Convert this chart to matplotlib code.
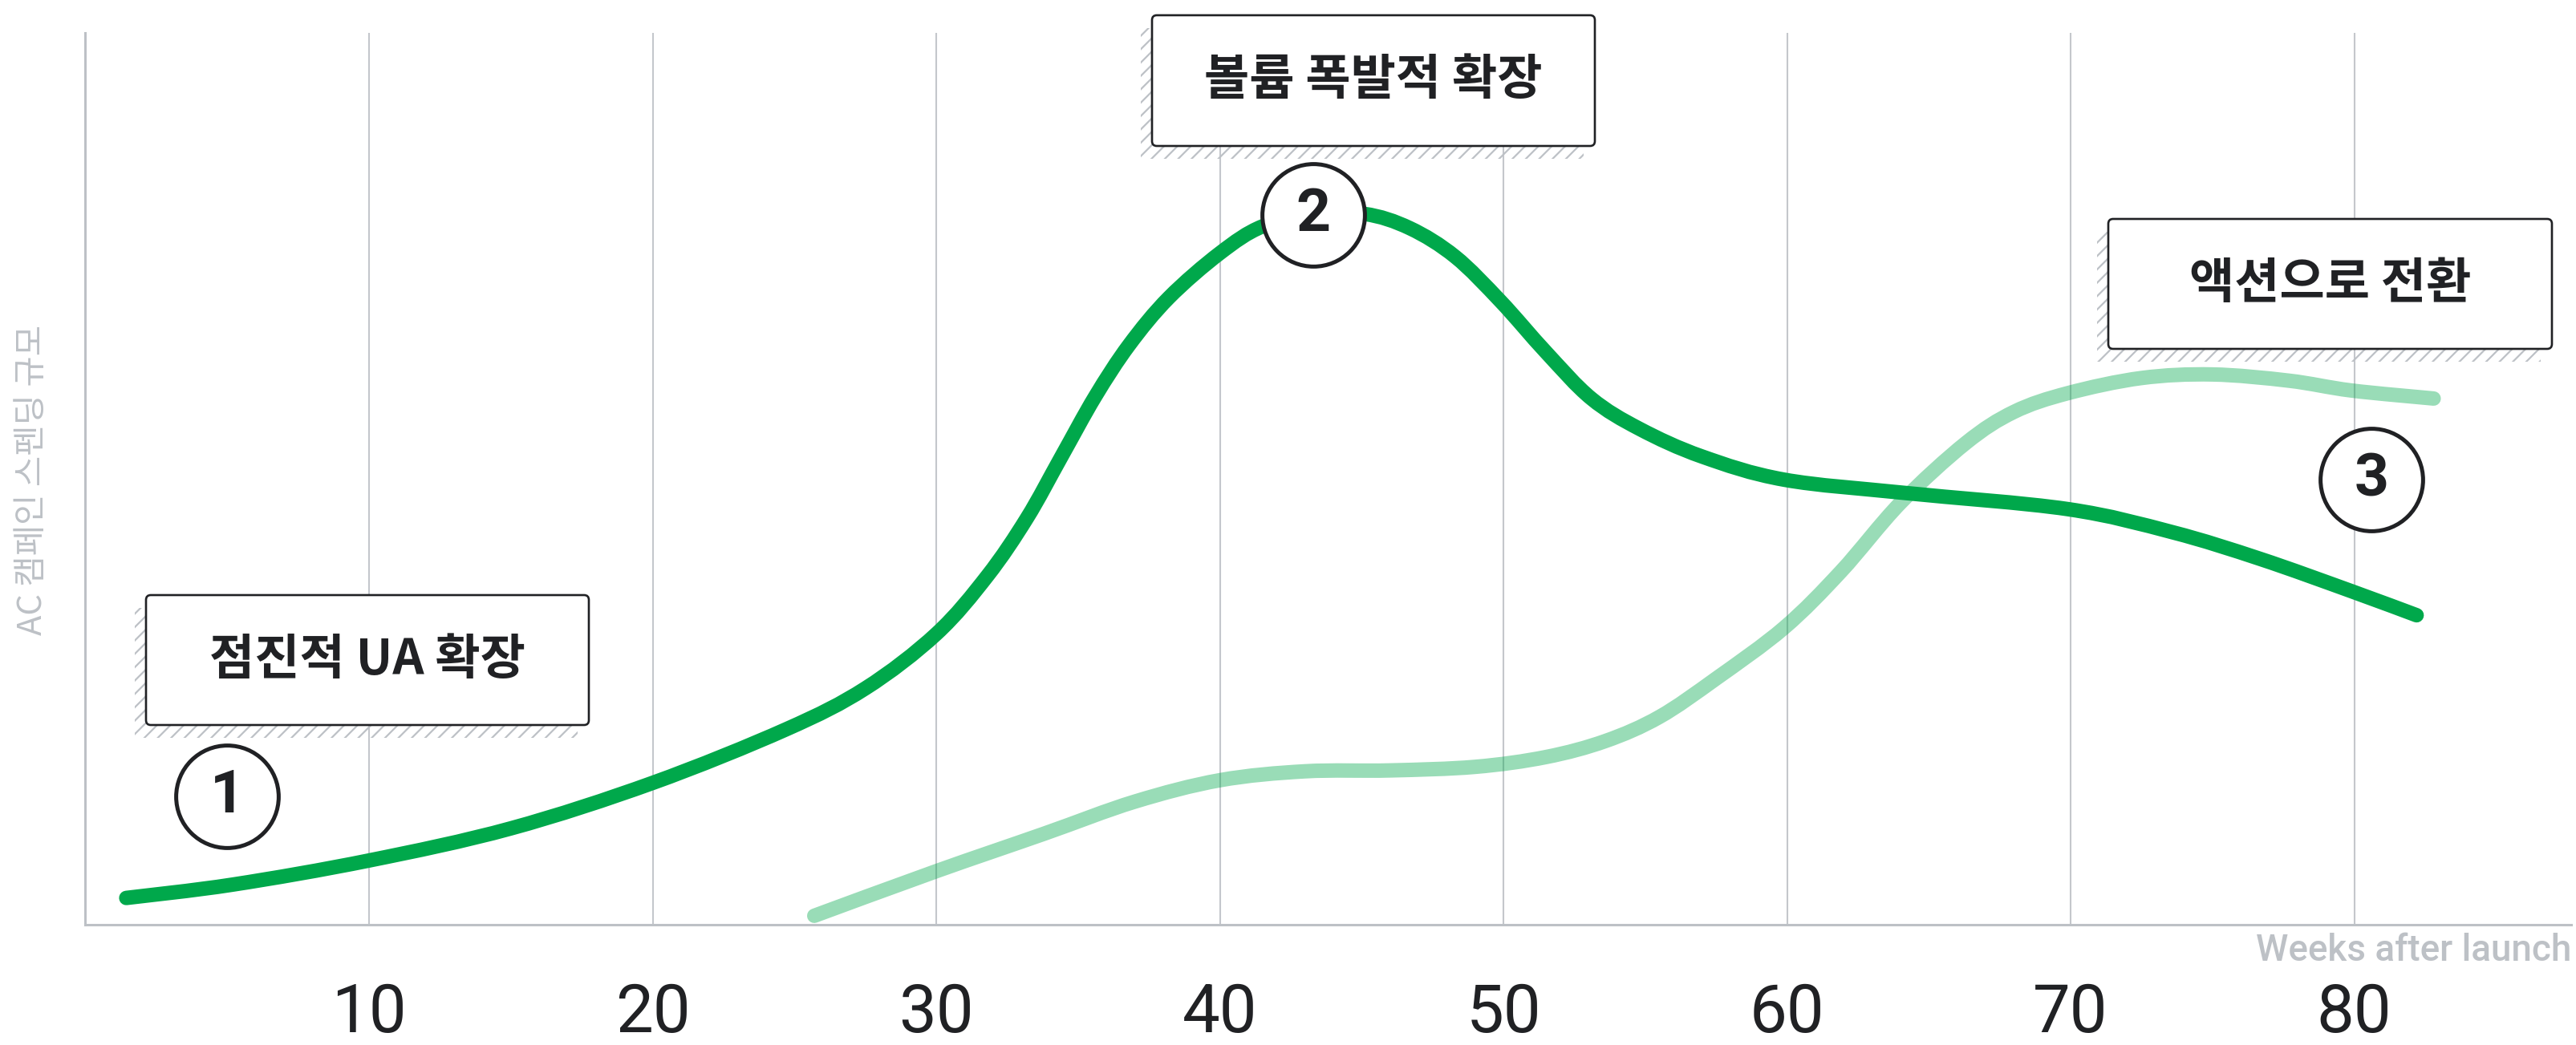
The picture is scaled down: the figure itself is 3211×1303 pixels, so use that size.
import matplotlib.pyplot as plt
from matplotlib.patches import FancyBboxPatch, Rectangle, PathPatch
from matplotlib.path import Path

plt.rcParams['font.family'] = ['Noto Sans CJK KR', 'DejaVu Sans']
plt.rcParams['hatch.linewidth'] = 1.6
plt.rcParams['hatch.color'] = '#BDC1C6'

# week, spend level (arbitrary units, 0-100)
weeks_ua = [1.44, 5.2, 10, 15, 20, 24.7, 27.5, 30, 31.8, 33.2, 34.4, 35.6, 36.8, 38.2, 40,
            41.5, 43.3, 45.1, 46.7, 48.3, 49.9, 51.5, 53.1, 54.8, 57, 59.9, 64.2, 69.9,
            73.6, 76.7, 79.9, 82.2]
spend_ua = [3.0, 4.5, 7.2, 10.8, 15.9, 21.9, 26.5, 32.6, 39.1, 45.6, 52.4, 59.2, 65.0, 70.3, 75.3,
            78.3, 79.6, 79.7, 78.1, 74.9, 69.9, 64.2, 59.0, 55.6, 52.5, 49.9, 48.4, 46.6,
            44.0, 41.0, 37.4, 34.7]

weeks_action = [25.7, 30, 33.8, 37, 40, 43, 46, 49, 51.5, 53.6, 55.5, 57.5, 59.9, 61.9, 64.0,
                66.3, 68, 69.9, 72.5, 75, 77.7, 79.9, 82.8]
spend_action = [1.0, 6.0, 10.2, 13.8, 16.2, 17.2, 17.3, 17.7, 18.8, 20.6, 23.3, 27.6, 33.3, 39.6,
                47.3, 54.0, 57.5, 59.6, 61.3, 61.7, 61.0, 59.9, 59.0]

tick_weeks = [10, 20, 30, 40, 50, 60, 70, 80]

badge_labels = ['1', '2', '3']
badge_x = [5.0, 43.3, 80.6]
badge_y = [14.4, 79.6, 49.9]

box_texts = ['점진적 UA 확장', '볼륨 폭발적 확장', '액션으로 전환']
# box extents in figure pixels (left, top, right, bottom)
box_px = [(182, 742, 734, 904), (1436, 19, 1988, 182), (2628, 273, 3181, 435)]


def smooth_path(xs, ys):
    # Catmull-Rom style bezier through the read points
    pts = list(zip(xs, ys))
    verts = [pts[0]]
    codes = [Path.MOVETO]
    n = len(pts)
    for i in range(n - 1):
        p0 = pts[max(i - 1, 0)]
        p1 = pts[i]
        p2 = pts[i + 1]
        p3 = pts[min(i + 2, n - 1)]
        c1 = (p1[0] + (p2[0] - p0[0]) / 6, p1[1] + (p2[1] - p0[1]) / 6)
        c2 = (p2[0] - (p3[0] - p1[0]) / 6, p2[1] - (p3[1] - p1[1]) / 6)
        verts += [c1, c2, p2]
        codes += [Path.CURVE4] * 3
    return Path(verts, codes)


W, H = 3211, 1303
fig = plt.figure(figsize=(W / 100, H / 100), dpi=100)
ax = fig.add_axes([106.5 / W, (H - 1153) / H, (3205 - 106.5) / W, (1153 - 41) / H])

ax.add_patch(PathPatch(smooth_path(weeks_ua, spend_ua), facecolor='none', edgecolor='#00A84B',
                       lw=13, capstyle='round', joinstyle='round', zorder=2))
ax.add_patch(PathPatch(smooth_path(weeks_action, spend_action), facecolor='none',
                       edgecolor='#00A84B', alpha=0.4, lw=13, capstyle='round',
                       joinstyle='round', zorder=3))

ax.plot(badge_x, badge_y, 'o', ms=92, mfc='white', mec='#202124', mew=3.6, zorder=5)
for lab, bx, by in zip(badge_labels, badge_x, badge_y):
    ax.text(bx, by, lab, ha='center', va='center', fontsize=54, fontweight='bold',
            color='#202124', family=['Roboto', 'DejaVu Sans'], zorder=6)

ax.set_xlim(0, 87.65)
ax.set_ylim(0, 100)
ax.set_xticks(tick_weeks)
ax.set_xticklabels([str(t) for t in tick_weeks], fontsize=60, color='#202124',
                   family=['Roboto', 'DejaVu Sans'])
ax.set_yticks([])
ax.tick_params(axis='x', length=0, pad=51)
ax.grid(axis='x', color='#C4C7CC', lw=1.5, zorder=0)
for s in ['top', 'right']:
    ax.spines[s].set_visible(False)
for s in ['left', 'bottom']:
    ax.spines[s].set_color('#BDC1C6')
    ax.spines[s].set_linewidth(2.2)

ax.text(1.0, -0.029, 'Weeks after launch', transform=ax.transAxes, ha='right', va='center',
        fontsize=33, fontweight='medium', color='#BDC1C6', family=['Roboto', 'DejaVu Sans'])

# overlay in figure pixels for the callout boxes
ov = fig.add_axes([0, 0, 1, 1], zorder=10)
ov.set_xlim(0, W)
ov.set_ylim(H, 0)
ov.axis('off')
ov.patch.set_alpha(0)

ov.text(41, 598, 'AC 캠페인 스펜딩 규모', rotation=90, ha='center', va='center',
        fontsize=30, color='#BDC1C6')

for txt, (l, t, r, b) in zip(box_texts, box_px):
    ov.add_patch(Rectangle((l - 14, t + 16), r - l, b - t, facecolor='none',
                           edgecolor='#BDC1C6', lw=0, hatch='//', zorder=1))
    ov.add_patch(FancyBboxPatch((l, t), r - l, b - t, boxstyle='round,pad=0,rounding_size=6',
                                facecolor='white', edgecolor='#202124', lw=1.9, zorder=2))
    ov.text((l + r) / 2, (t + b) / 2, txt, ha='center', va='center', fontsize=44,
            fontweight='bold', color='#202124', zorder=3)

fig.savefig('out.png', dpi=100)
